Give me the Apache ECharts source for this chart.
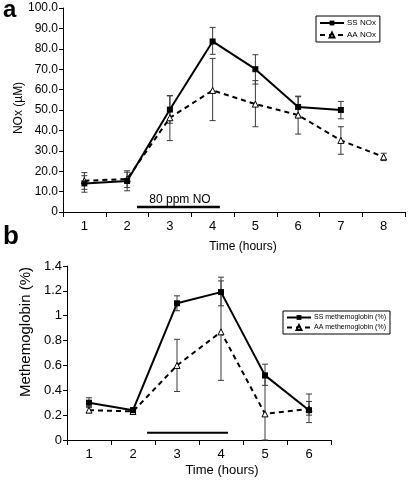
<!DOCTYPE html>
<html><head><meta charset="utf-8">
<script src="https://cdn.jsdelivr.net/npm/echarts@6/dist/echarts.min.js"></script>
<style>html,body{margin:0;padding:0;background:#fff}#c{width:408px;height:483px}</style>
</head><body><div id="c"></div>
<script>
// ---- Panel a data ----
const hoursA = ['1','2','3','4','5','6','7','8'];
const ssNOx     = [14.0, 15.2, 50.2, 83.6, 70.0, 51.5, 50.0, null];
const ssNOxLow  = [9.7, 10.4, 43.5, 77.3, 62.7, 47.0, 45.7, null];
const ssNOxHigh = [19.3, 20.2, 57.0, 90.5, 77.1, 56.5, 54.2, null];
const aaNOx     = [15.3, 16.2, 46.2, 59.6, 52.9, 47.5, 35.1, 27.0];
const aaNOxLow  = [11.1, 12.0, 35.0, 44.8, 41.8, 38.2, 28.3, 25.2];
const aaNOxHigh = [17.8, 19.5, 57.0, 75.3, 64.4, 56.8, 41.8, 28.8];
const noExposureA = [2.23, 4.17];
const noExposureLevelA = 2.5;
const yTickValsA = [0,10,20,30,40,50,60,70,80,90,100];
const yTickLabelsA = ['0','10.0','20.0','30.0','40.0','50.0','60.0','70.0','80.0','90.0','100.0'];

// ---- Panel b data ----
const hoursB = ['1','2','3','4','5','6'];
const ssMet     = [0.30, 0.24, 1.10, 1.19, 0.52, 0.24];
const ssMetLow  = [0.27, 0.22, 1.04, 1.08, 0.44, 0.14];
const ssMetHigh = [0.34, 0.26, 1.16, 1.31, 0.61, 0.37];
const aaMet     = [0.24, 0.23, 0.60, 0.87, 0.21, 0.25];
const aaMetLow  = [0.22, 0.21, 0.39, 0.48, 0.00, 0.20];
const aaMetHigh = [0.26, 0.25, 0.81, 1.28, 0.50, 0.31];
const noExposureB = [2.32, 4.16];
const noExposureLevelB = 0.058;
const yTickValsB = [0,0.2,0.4,0.6,0.8,1,1.2,1.4];
const yTickLabelsB = ['0','0.2','0.4','0.6','0.8','1','1.2','1.4'];

const FONT = 'Liberation Sans, Arial, sans-serif';

function errData(lo, hi){
  const out = [];
  lo.forEach((v,i)=>{ if(v!==null && hi[i]!==null) out.push([i, v, hi[i]]); });
  return out;
}
function errRender(params, api){
  const x = api.value(0), lo = api.value(1), hi = api.value(2);
  const p1 = api.coord([x, lo]), p2 = api.coord([x, hi]);
  const w = 3;
  const st = {stroke:'#3a3a3a', lineWidth:1};
  return {type:'group', children:[
    {type:'line', shape:{x1:p1[0],y1:p1[1],x2:p2[0],y2:p2[1]}, style:st},
    {type:'line', shape:{x1:p1[0]-w,y1:p1[1],x2:p1[0]+w,y2:p1[1]}, style:st},
    {type:'line', shape:{x1:p2[0]-w,y1:p2[1],x2:p2[0]+w,y2:p2[1]}, style:st}
  ]};
}
function catAxis(grid, data){
  return {type:'category', gridIndex:grid, data:data, boundaryGap:true,
    axisLine:{lineStyle:{color:'#000', width:1}},
    axisTick:{show:true, length:5, lineStyle:{color:'#000'}},
    axisLabel:{color:'#000', fontSize:13, fontFamily:FONT, margin:8},
    splitLine:{show:false}};
}
function valAxis(grid, max, interval, vals, labels, fs){
  return {type:'value', gridIndex:grid, min:0, max:max, interval:interval,
    axisLine:{show:true, lineStyle:{color:'#000', width:1}},
    axisTick:{show:true, length:4, lineStyle:{color:'#000'}},
    axisLabel:{color:'#000', fontSize:fs, fontFamily:FONT, margin:5,
      formatter:v=>{const k = vals.findIndex(t=>Math.abs(t-v)<1e-9); return k>=0?labels[k]:'';}},
    splitLine:{show:false}};
}
const ssStyle = {symbol:'rect', symbolSize:6, itemStyle:{color:'#000'}, lineStyle:{color:'#000', width:2, type:'solid'}};
const aaStyle = {symbol:'triangle', symbolSize:6, itemStyle:{color:'#fff', borderColor:'#000', borderWidth:1}, lineStyle:{color:'#000', width:2, type:[5,4]}};

const chart = echarts.init(document.getElementById('c'), null, {renderer:'canvas'});
chart.setOption({
  animation:false,
  backgroundColor:'#fff',
  grid:[
    {left:63, top:8, width:342, height:204},
    {left:67, top:266, width:264, height:174}
  ],
  xAxis:[
    catAxis(0, hoursA),
    catAxis(1, hoursB),
    {type:'value', gridIndex:0, min:0.5, max:8.5, show:false},
    {type:'value', gridIndex:1, min:0.5, max:6.5, show:false}
  ],
  yAxis:[
    valAxis(0, 100, 10, yTickValsA, yTickLabelsA, 12),
    valAxis(1, 1.4, 0.2, yTickValsB, yTickLabelsB, 13)
  ],
  legend:[
    {data:['SS NOx','AA NOx'], orient:'vertical', left:316, top:16, itemWidth:24, itemHeight:6, itemGap:4,
     padding:[3,4,3,3], borderColor:'#000', borderWidth:1, backgroundColor:'#fff',
     textStyle:{fontSize:8, fontFamily:FONT, color:'#000', padding:[0,0,0,-2]}},
    {data:['SS methemoglobin (%)','AA methemoglobin (%)'], orient:'vertical', left:283, top:311, itemWidth:24, itemHeight:6, itemGap:3,
     padding:[3,4,3,3], borderColor:'#000', borderWidth:1, backgroundColor:'#fff',
     textStyle:{fontSize:7, fontFamily:FONT, color:'#000', padding:[0,0,0,-2]}}
  ],
  graphic:[
    {type:'text', left:3, top:-2, style:{text:'a', font:'bold 24px '+FONT, fill:'#000'}},
    {type:'text', left:3, top:224, style:{text:'b', font:'bold 26px '+FONT, fill:'#000'}},
    {type:'text', x:180, y:200, style:{text:'80 ppm NO', font:'12px '+FONT, fill:'#000', textAlign:'center', textVerticalAlign:'middle'}},
    {type:'text', x:243, y:247, style:{text:'Time (hours)', font:'12px '+FONT, fill:'#000', textAlign:'center', textVerticalAlign:'middle'}},
    {type:'text', x:19, y:108, rotation:Math.PI/2, style:{text:'NOx (µM)', font:'12px '+FONT, fill:'#000', textAlign:'center', textVerticalAlign:'middle'}},
    {type:'text', x:26, y:332, rotation:Math.PI/2, style:{text:'Methemoglobin (%)', font:'15px '+FONT, fill:'#000', textAlign:'center', textVerticalAlign:'middle'}},
    {type:'text', x:222, y:470, style:{text:'Time (hours)', font:'13px '+FONT, fill:'#000', textAlign:'center', textVerticalAlign:'middle'}}
  ],
  series:[
    {type:'custom', name:'errSSa', xAxisIndex:0, yAxisIndex:0, renderItem:errRender, data:errData(ssNOxLow, ssNOxHigh), z:1, silent:true},
    {type:'custom', name:'errAAa', xAxisIndex:0, yAxisIndex:0, renderItem:errRender, data:errData(aaNOxLow, aaNOxHigh), z:1, silent:true},
    Object.assign({type:'line', name:'SS NOx', xAxisIndex:0, yAxisIndex:0, data:ssNOx, z:3}, ssStyle),
    Object.assign({type:'line', name:'AA NOx', xAxisIndex:0, yAxisIndex:0, data:aaNOx, z:2}, aaStyle),
    {type:'line', name:'noA', xAxisIndex:2, yAxisIndex:0, symbol:'none', silent:true,
     data:noExposureA.map(x=>[x, noExposureLevelA]), lineStyle:{color:'#000', width:2.5}},
    {type:'custom', name:'errSSb', xAxisIndex:1, yAxisIndex:1, renderItem:errRender, data:errData(ssMetLow, ssMetHigh), z:1, silent:true},
    {type:'custom', name:'errAAb', xAxisIndex:1, yAxisIndex:1, renderItem:errRender, data:errData(aaMetLow, aaMetHigh), z:1, silent:true},
    Object.assign({type:'line', name:'SS methemoglobin (%)', xAxisIndex:1, yAxisIndex:1, data:ssMet, z:3}, ssStyle),
    Object.assign({type:'line', name:'AA methemoglobin (%)', xAxisIndex:1, yAxisIndex:1, data:aaMet, z:2}, aaStyle),
    {type:'line', name:'noB', xAxisIndex:3, yAxisIndex:1, symbol:'none', silent:true,
     data:noExposureB.map(x=>[x, noExposureLevelB]), lineStyle:{color:'#000', width:2}}
  ]
});
</script></body></html>
